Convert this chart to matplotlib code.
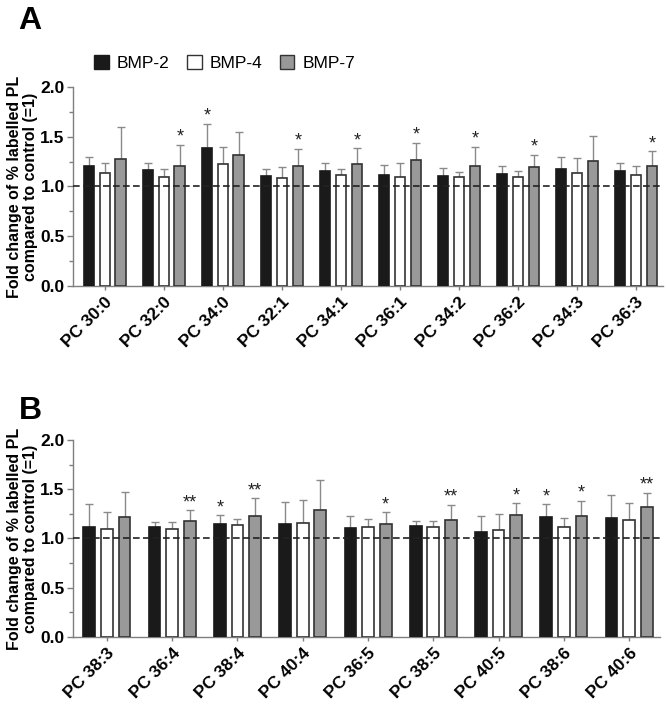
import matplotlib
matplotlib.use("Agg")
import matplotlib.pyplot as plt
import numpy as np
from matplotlib.ticker import MultipleLocator
from matplotlib.patches import Patch

plt.rcParams['font.family'] = ['Liberation Sans', 'DejaVu Sans']

series = ["BMP-2", "BMP-4", "BMP-7"]

cats_a = ["PC 30:0", "PC 32:0", "PC 34:0", "PC 32:1", "PC 34:1",
          "PC 36:1", "PC 34:2", "PC 36:2", "PC 34:3", "PC 36:3"]
bmp2_a = [1.21, 1.165, 1.39, 1.11, 1.158, 1.117, 1.104, 1.128, 1.18, 1.154]
bmp4_a = [1.134, 1.094, 1.23, 1.087, 1.117, 1.10, 1.094, 1.097, 1.134, 1.117]
bmp7_a = [1.28, 1.21, 1.315, 1.205, 1.23, 1.265, 1.21, 1.195, 1.255, 1.21]
bmp2_a_top = [1.30, 1.24, 1.63, 1.18, 1.24, 1.215, 1.185, 1.205, 1.30, 1.24]
bmp4_a_top = [1.24, 1.175, 1.40, 1.20, 1.18, 1.235, 1.15, 1.158, 1.285, 1.21]
bmp7_a_top = [1.60, 1.42, 1.55, 1.38, 1.385, 1.44, 1.40, 1.32, 1.51, 1.355]
sig2_a = ["", "", "*", "", "", "", "", "", "", ""]
sig4_a = [""] * 10
sig7_a = ["", "*", "", "*", "*", "*", "*", "*", "", "*"]

cats_b = ["PC 38:3", "PC 36:4", "PC 38:4", "PC 40:4", "PC 36:5",
          "PC 38:5", "PC 40:5", "PC 38:6", "PC 40:6"]
bmp2_b = [1.12, 1.115, 1.15, 1.146, 1.105, 1.125, 1.07, 1.214, 1.203]
bmp4_b = [1.10, 1.10, 1.132, 1.153, 1.12, 1.112, 1.09, 1.112, 1.186]
bmp7_b = [1.215, 1.173, 1.224, 1.288, 1.15, 1.186, 1.234, 1.224, 1.322]
bmp2_b_top = [1.35, 1.166, 1.237, 1.366, 1.227, 1.18, 1.227, 1.35, 1.437]
bmp4_b_top = [1.27, 1.163, 1.20, 1.386, 1.20, 1.176, 1.244, 1.207, 1.363]
bmp7_b_top = [1.47, 1.285, 1.407, 1.59, 1.264, 1.342, 1.36, 1.383, 1.464]
sig2_b = ["", "", "*", "", "", "", "", "*", ""]
sig4_b = [""] * 9
sig7_b = ["", "**", "**", "", "*", "**", "*", "*", "**"]

fills = ["#1a1a1a", "#ffffff", "#999999"]
edges = ["#1a1a1a", "#333333", "#333333"]
ecol = "#8a8a8a"
spine_col = "#7f7f7f"

fig = plt.figure(figsize=(6.66, 7.07), dpi=100)
ax_a = fig.add_axes([0.1096, 0.5955, 0.886, 0.2815])
ax_b = fig.add_axes([0.1096, 0.099, 0.882, 0.2787])


def draw(ax, cats, vals, tops, sigs, xlim):
    x = np.arange(len(cats))
    w = 0.18
    offs = [-0.27, 0.0, 0.27]
    for k in range(3):
        v = np.array(vals[k])
        t = np.array(tops[k])
        ax.bar(x + offs[k], v, width=w, color=fills[k], edgecolor=edges[k],
               linewidth=1.2, zorder=3)
        ax.errorbar(x + offs[k], v, yerr=[np.zeros_like(v), t - v], fmt='none',
                    ecolor=ecol, elinewidth=1.0, capsize=3, capthick=1.0, zorder=2)
        for xi, ti, s in zip(x + offs[k], t, sigs[k]):
            if s:
                ax.text(xi, ti - 0.01, s, ha='center', va='bottom',
                        fontsize=13, color='#222222')
    ax.axhline(1.0, color='#222222', linestyle=(0, (4, 2)), linewidth=1.2, zorder=4)
    ax.set_xlim(*xlim)
    ax.set_ylim(0, 2.0)
    ax.yaxis.set_major_locator(MultipleLocator(0.5))
    ax.yaxis.set_minor_locator(MultipleLocator(0.25))
    ax.set_yticks([0, 0.5, 1.0, 1.5, 2.0])
    ax.set_yticklabels(["0.0", "0.5", "1.0", "1.5", "2.0"], fontweight='bold', fontsize=12.5)
    ax.set_xticks(x)
    ax.set_xticklabels(cats, rotation=45, ha='right', rotation_mode='anchor',
                       fontweight='bold', fontsize=12.5)
    for sp in ['top', 'right']:
        ax.spines[sp].set_visible(False)
    for sp in ['left', 'bottom']:
        ax.spines[sp].set_color(spine_col)
        ax.spines[sp].set_linewidth(1.0)
    ax.tick_params(axis='both', which='both', color=spine_col, width=1.0)
    ax.tick_params(axis='y', which='major', length=4, pad=2)
    ax.tick_params(axis='y', which='minor', length=3)
    ax.tick_params(axis='x', which='major', length=3, pad=3)
    ax.set_ylabel("Fold change of % labelled PL\ncompared to control (=1)",
                  fontweight='bold', fontsize=11.5, labelpad=2, linespacing=1.05)


draw(ax_a, cats_a, [bmp2_a, bmp4_a, bmp7_a], [bmp2_a_top, bmp4_a_top, bmp7_a_top],
     [sig2_a, sig4_a, sig7_a], (-0.54, 9.46))
draw(ax_b, cats_b, [bmp2_b, bmp4_b, bmp7_b], [bmp2_b_top, bmp4_b_top, bmp7_b_top],
     [sig2_b, sig4_b, sig7_b], (-0.52, 8.48))

handles = [Patch(facecolor=fills[k], edgecolor=edges[k], linewidth=1.0) for k in range(3)]
fig.legend(handles, series, loc='center left', bbox_to_anchor=(0.118, 0.911),
           ncol=3, frameon=False, fontsize=12.5, handlelength=0.85, handleheight=0.85,
           handletextpad=0.45, columnspacing=1.0)

fig.text(0.028, 0.992, "A", fontsize=23, fontweight='bold', va='top', ha='left')
fig.text(0.028, 0.44, "B", fontsize=23, fontweight='bold', va='top', ha='left')

fig.savefig("out.png", dpi=100)
